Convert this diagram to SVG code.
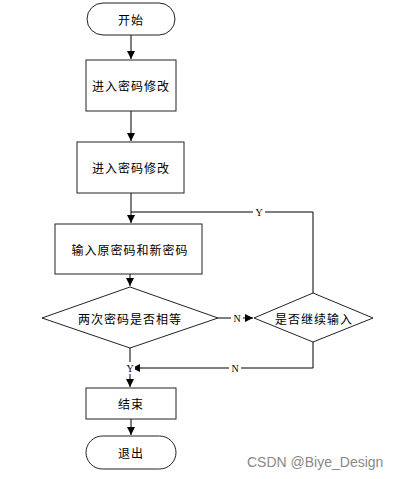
<svg xmlns="http://www.w3.org/2000/svg" width="415" height="479" viewBox="0 0 415 479">
<style>
.n{fill:#fff;stroke:#222;stroke-width:1}
.t{font-family:"Noto Sans CJK SC","Noto Sans",sans-serif;font-size:12px;fill:#000;text-anchor:middle;dominant-baseline:central;letter-spacing:1px}
.c{fill:none;stroke:#000;stroke-width:1}
.l{font-family:"Liberation Serif",serif;font-size:10px;fill:#000;text-anchor:middle;dominant-baseline:central}
.w{font-family:"Liberation Sans",sans-serif;font-size:14px;fill:#888}
</style>
<defs>
<marker id="a" viewBox="0 0 10 10" refX="10" refY="5" markerWidth="8" markerHeight="8" markerUnits="userSpaceOnUse" orient="auto">
<path d="M0,0L10,5L0,10z" fill="#000"/>
</marker>
</defs>
<rect width="415" height="479" fill="#fff"/>
<g id="connectors">
<path class="c" d="M131,35V59" marker-end="url(#a)"/>
<path class="c" d="M131,111V141" marker-end="url(#a)"/>
<path class="c" d="M131,193V223" marker-end="url(#a)"/>
<path class="c" d="M313,293V212H131"/>
<path class="c" d="M130,274V286" marker-end="url(#a)"/>
<path class="c" d="M218,318H253" marker-end="url(#a)"/>
<path class="c" d="M313,342V368H132" marker-end="url(#a)"/>
<path class="c" d="M130,348V387" marker-end="url(#a)"/>
<path class="c" d="M131,419V435" marker-end="url(#a)"/>
<rect x="253" y="206" width="12" height="12" fill="#fff"/>
<text class="l" x="259" y="212">Y</text>
<rect x="231" y="312" width="12" height="12" fill="#fff"/>
<text class="l" x="237" y="318">N</text>
<rect x="229" y="362" width="12" height="12" fill="#fff"/>
<text class="l" x="235" y="368">N</text>
<rect x="125" y="362" width="10" height="12" fill="#fff"/>
<text class="l" x="130" y="368">Y</text>
</g>
<g id="start">
<rect class="n" x="87" y="3" width="88" height="32" rx="16"/>
<text class="t" x="131" y="19">开始</text>
</g>
<g id="box1">
<rect class="n" x="86" y="60" width="90" height="51"/>
<text class="t" x="131" y="85.5">进入密码修改</text>
</g>
<g id="box2">
<rect class="n" x="77" y="142" width="107" height="51"/>
<text class="t" x="131" y="167.5">进入密码修改</text>
</g>
<g id="box3">
<rect class="n" x="55" y="224" width="147" height="50"/>
<text class="t" x="130" y="249">输入原密码和新密码</text>
</g>
<g id="dec1">
<polygon class="n" points="130,287 218,318 130,348 42,318"/>
<text class="t" x="130" y="318">两次密码是否相等</text>
</g>
<g id="dec2">
<polygon class="n" points="313,293 373,318 313,342 254,318"/>
<text class="t" x="314" y="318">是否继续输入</text>
</g>
<g id="end">
<rect class="n" x="86" y="388" width="90" height="31"/>
<text class="t" x="131" y="403.5">结束</text>
</g>
<g id="exit">
<rect class="n" x="86" y="436" width="90" height="33" rx="16.5"/>
<text class="t" x="131" y="452.5">退出</text>
</g>
<text class="w" x="247" y="467">CSDN @Biye_Design</text>
</svg>
